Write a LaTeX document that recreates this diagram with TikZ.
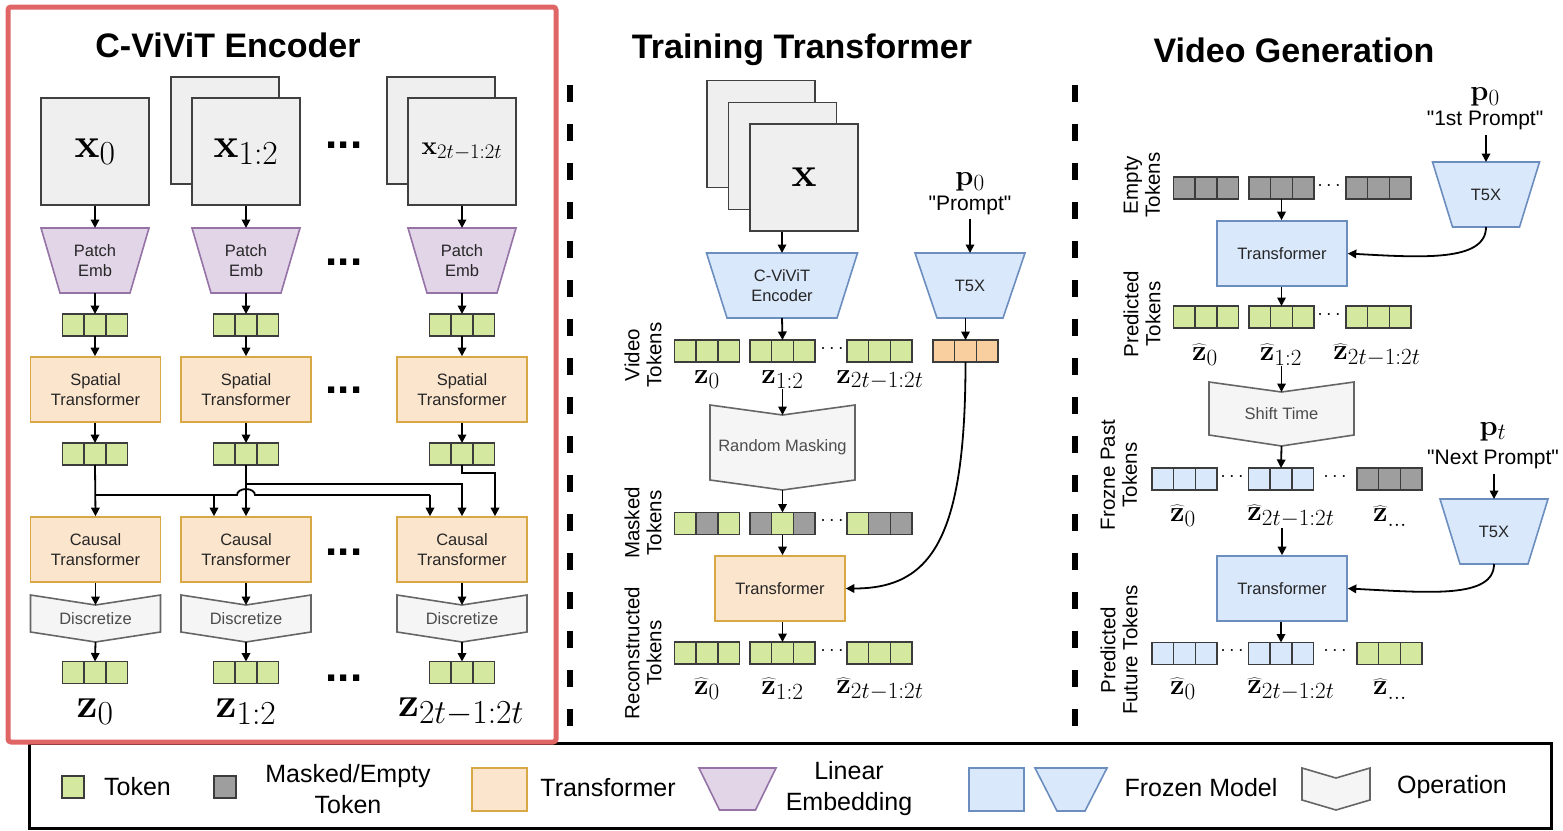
\RequirePackage{fix-cm}
\documentclass[tikz,border=0pt]{standalone}
\usepackage[no-math]{fontspec}
\setmainfont{Liberation Sans}
\usetikzlibrary{arrows.meta}
\renewcommand\defaultscriptratio{.8}
\definecolor{tokg}{HTML}{D5E8A0}
\definecolor{tokgray}{HTML}{9E9E9E}
\definecolor{tokor}{HTML}{F9CFA0}
\definecolor{tokline}{HTML}{3C3C3C}
\definecolor{trfill}{HTML}{FCE5CD}
\definecolor{trdraw}{HTML}{D9A846}
\definecolor{pfill}{HTML}{E1D5E7}
\definecolor{pdraw}{HTML}{9673A6}
\definecolor{bfill}{HTML}{DAE8FC}
\definecolor{bdraw}{HTML}{6C8EBF}
\definecolor{ofill}{HTML}{F5F5F5}
\definecolor{odraw}{HTML}{666666}
\definecolor{framefill}{HTML}{EFEFEF}
\definecolor{frameline}{HTML}{404040}
\definecolor{redbox}{HTML}{E06666}
\newcommand\tgroup[6]{%
  \node[cell,fill=#4] (#1-l) at ({#2-21.7},#3) {};%
  \node[cell,fill=#5] (#1) at (#2,#3) {};%
  \node[cell,fill=#6] (#1-r) at ({#2+21.7},#3) {};%
}
% name, cx, ytop, ybot, half top, half bottom, style, text
\newcommand\trap[8]{%
  \draw[#7] ({#2-#5},#3) -- ({#2+#5},#3) -- ({#2+#6},#4) -- ({#2-#6},#4) -- cycle;%
  \coordinate (#1-n) at (#2,#3);\coordinate (#1-s) at (#2,#4);%
  \node[txt] (#1) at (#2,{(#3+#4)/2}) {#8};%
}
% name, cx, half width, ytop, ynotch, yside, ytip, text
\newcommand\opshape[8]{%
  \draw[opsh] ({#2-#3},#4) -- (#2,#5) -- ({#2+#3},#4) -- ({#2+#3},#6) -- (#2,#7) -- ({#2-#3},#6) -- cycle;%
  \coordinate (#1-n) at (#2,#5);\coordinate (#1-s) at (#2,#7);%
  \node[txt,text=black!70] (#1) at (#2,{(#5+#6)/2}) {#8};%
}
\newcommand\qt[1]{\textquotedbl#1\textquotedbl}
\newcommand\zh{\widehat{\mathbf{z}}}
\begin{document}
\begin{tikzpicture}[x=1pt,y=-1pt,
  cell/.style={draw=tokline,line width=1.5pt,minimum width=21.7pt,minimum height=22pt,inner sep=0pt,outer sep=0pt},
  arr/.style={line width=1.8pt,-{Triangle[length=8.5pt,width=8.5pt]}},
  ln/.style={line width=1.8pt},
  frm/.style={draw=frameline,fill=framefill,line width=1.6pt,minimum width=108pt,minimum height=107pt,inner sep=0pt},
  txt/.style={font=\fontsize{16.5}{19.5}\selectfont,align=center,text=black!85,inner sep=0pt},
  trbox/.style={txt,draw=trdraw,fill=trfill,line width=1.6pt,minimum width=130pt,minimum height=65pt},
  frzbox/.style={txt,draw=bdraw,fill=bfill,line width=1.6pt,minimum width=130pt,minimum height=65pt},
  pemb/.style={draw=pdraw,fill=pfill,line width=1.6pt},
  frz/.style={draw=bdraw,fill=bfill,line width=1.6pt},
  opsh/.style={draw=odraw,fill=ofill,line width=1.6pt},
  ttl/.style={font=\fontsize{34}{40}\selectfont\bfseries,inner sep=0pt},
  sidelbl/.style={font=\fontsize{20.5}{22}\selectfont,align=center,rotate=90,inner sep=0pt},
  legtxt/.style={font=\fontsize{25}{31}\selectfont,align=center,inner sep=0pt},
  bigdots/.style={font=\fontsize{44}{44}\selectfont\bfseries,inner sep=0pt},
  smalldots/.style={font=\fontsize{20}{20}\selectfont,inner sep=0pt},
  prm/.style={font=\fontsize{21}{24}\selectfont,inner sep=0pt},
  mbig/.style={font=\fontsize{42}{46}\selectfont,inner sep=0pt},
  mmid/.style={font=\fontsize{29}{32}\selectfont,inner sep=0pt},
]
\useasboundingbox (0,0) rectangle (1563,830);
\fill[white] (0,0) rectangle (1563,830);

% ================= LEFT PANEL =================
\node[ttl] (t1) at (228,45) {C-ViViT Encoder};
\node[frm,mbig] (fx1) at (95,151.5) {$\mathbf{x}_0$};
\node[frm] (fx2b) at (225,130.5) {};
\node[frm,mbig] (fx2) at (246,151.5) {$\mathbf{x}_{1:2}$};
\node[frm] (fx3b) at (441,130.5) {};
\node[frm,font=\fontsize{26}{30}\selectfont] (fx3) at (462,151.5) {$\mathbf{x}_{2t-1:2t}$};

\trap{pe1}{95}{228}{293}{54}{35}{pemb}{Patch\\Emb}
\trap{pe2}{246}{228}{293}{54}{35}{pemb}{Patch\\Emb}
\trap{pe3}{462}{228}{293}{54}{35}{pemb}{Patch\\Emb}

\tgroup{a1}{95}{325}{tokg}{tokg}{tokg}
\tgroup{a2}{246}{325}{tokg}{tokg}{tokg}
\tgroup{a3}{462}{325}{tokg}{tokg}{tokg}

\node[trbox] (sp1) at (95.5,389.5) {Spatial\\Transformer};
\node[trbox] (sp2) at (246,389.5) {Spatial\\Transformer};
\node[trbox] (sp3) at (462,389.5) {Spatial\\Transformer};

\tgroup{b1}{95}{454}{tokg}{tokg}{tokg}
\tgroup{b2}{246}{454}{tokg}{tokg}{tokg}
\tgroup{b3}{462}{454}{tokg}{tokg}{tokg}

\node[trbox] (ca1) at (95.5,549.5) {Causal\\Transformer};
\node[trbox] (ca2) at (246,549.5) {Causal\\Transformer};
\node[trbox] (ca3) at (462,549.5) {Causal\\Transformer};

\opshape{d1}{95.5}{65}{595}{605}{632}{642}{Discretize}
\opshape{d2}{246}{65}{595}{605}{632}{642}{Discretize}
\opshape{d3}{462}{65}{595}{605}{632}{642}{Discretize}

\tgroup{c1}{95}{672.5}{tokg}{tokg}{tokg}
\tgroup{c2}{246}{672.5}{tokg}{tokg}{tokg}
\tgroup{c3}{462}{672.5}{tokg}{tokg}{tokg}

\node[mbig] (zl1) at (95,712) {$\mathbf{z}_0$};
\node[mbig] (zl2) at (246,712) {$\mathbf{z}_{1:2}$};
\node[mbig] (zl3) at (461,712) {$\mathbf{z}_{2t-1:2t}$};

\node[bigdots] (dd1) at (344,145) {...};
\node[bigdots] (dd2) at (344,262) {...};
\node[bigdots] (dd3) at (344,390) {...};
\node[bigdots] (dd4) at (344,552) {...};
\node[bigdots] (dd5) at (344,678) {...};

\foreach \i in {1,2,3}{
  \draw[arr] (pe\i-n |- fx\i.south) -- (pe\i-n);
  \draw[arr] (pe\i-s) -- (a\i.north);
  \draw[arr] (a\i.south) -- (sp\i.north -| a\i.south);
  \draw[arr] (sp\i.south -| b\i.north) -- (b\i.north);
  \draw[arr] (ca\i.south -| d\i-n) -- (d\i-n);
  \draw[arr] (d\i-s) -- (c\i.north);
}
% causal connections
\path (b1.south) ++(0,30) coordinate (h1);
\path (b2.south) ++(0,19) coordinate (h2);
\path (b3.south) ++(0,8) coordinate (h3);
\coordinate (hopL) at ([xshift=-9pt]b2.south);
\coordinate (ca2a) at ([xshift=-32pt]ca2.north);
\coordinate (ca3a) at ([xshift=-32pt]ca3.north);
\coordinate (ca3c) at ([xshift=33pt]ca3.north);
\draw[arr] (b1.south) -- (ca1.north);
\draw[ln] (h1) -- (hopL |- h1) arc[start angle=180,end angle=360,x radius=9,y radius=6] -- (ca3a |- h1);
\draw[arr] (ca2a |- h1) -- (ca2a);
\draw[arr] (ca3a |- h1) -- (ca3a);
\draw[arr] (b2.south) -- (ca2.north);
\draw[arr] (h2) -| (ca3.north);
\draw[arr] (b3.south) -- (h3) -| (ca3c);

% ================= DIVIDERS =================
\draw[line width=5.5pt,dash pattern=on 16.5pt off 22.5pt] (570,85) -- (570,726);
\draw[line width=5.5pt,dash pattern=on 16.5pt off 22.5pt] (1075,85) -- (1075,726);

% ================= MIDDLE PANEL =================
\node[ttl] (t2) at (802,50) {Training Transformer};
\node[frm] (mf1) at (761,134) {};
\node[frm] (mf2) at (782.5,156) {};
\node[frm,mbig] (mf3) at (804,177.5) {$\mathbf{x}$};
\trap{enc}{782}{253}{318}{75.5}{55}{frz}{C-ViViT\\Encoder}
\trap{t5a}{970}{253}{318}{55}{33}{frz}{T5X}
\node[mmid] (p0a) at (970,182) {$\mathbf{p}_0$};
\node[prm] (pra) at (970,205) {\qt{Prompt}};
\draw[arr] (pra.south -| t5a-n) ++(0,4) -- (t5a-n);
\draw[arr] (enc-n |- mf3.south) -- (enc-n);

\tgroup{v1}{707}{351}{tokg}{tokg}{tokg}
\tgroup{v2}{782.5}{351}{tokg}{tokg}{tokg}
\tgroup{v3}{879.5}{351}{tokg}{tokg}{tokg}
\tgroup{vo}{965.5}{351}{tokor}{tokor}{tokor}
\node[smalldots] (vd) at (832,349) {$\cdots$};
\node[mmid] (vl1) at (707,380) {$\mathbf{z}_0$};
\node[mmid] (vl2) at (782.5,380) {$\mathbf{z}_{1:2}$};
\node[mmid] (vl3) at (880,380) {$\mathbf{z}_{2t-1:2t}$};
\draw[arr] (enc-s) -- (v2.north);
\draw[arr] (t5a-s -| vo.north) -- (vo.north);

\opshape{rm}{782.5}{72.5}{405}{415}{480}{490}{Random Masking}
\draw[arr] (rm-n |- vl2.south) -- (rm-n);

\tgroup{m1}{707}{523.5}{tokg}{tokgray}{tokg}
\tgroup{m2}{782.5}{523.5}{tokgray}{tokg}{tokgray}
\tgroup{m3}{879.5}{523.5}{tokg}{tokgray}{tokgray}
\node[smalldots] (md) at (832,521) {$\cdots$};
\draw[arr] (rm-s) -- (m2.north);

\node[trbox] (tr) at (780,588.5) {Transformer};
\draw[arr] (m2.south) -- (tr.north -| m2.south);
\draw[arr] (vo.south) .. controls +(0,178) and +(85,0) .. (tr.east);

\tgroup{r1}{707}{653}{tokg}{tokg}{tokg}
\tgroup{r2}{782.5}{653}{tokg}{tokg}{tokg}
\tgroup{r3}{879.5}{653}{tokg}{tokg}{tokg}
\node[smalldots] (rd) at (832,651) {$\cdots$};
\draw[arr] (tr.south -| r2.north) -- (r2.north);
\node[mmid] (rl1) at (707,689) {$\zh_0$};
\node[mmid] (rl2) at (782.5,689) {$\zh_{1:2}$};
\node[mmid] (rl3) at (880,689) {$\zh_{2t-1:2t}$};

\node[sidelbl] (s1) at (643,355) {Video\\Tokens};
\node[sidelbl] (s2) at (643,523) {Masked\\Tokens};
\node[sidelbl] (s3) at (643,653) {Reconstructed\\Tokens};

% ================= RIGHT PANEL =================
\node[ttl] (t3) at (1294,50) {Video Generation};
\node[mmid] (p0b) at (1485,97) {$\mathbf{p}_0$};
\node[prm] (prb) at (1485,120) {\qt{1st Prompt}};
\trap{t5b}{1486}{162}{227}{53.5}{33.5}{frz}{T5X}
\draw[arr] (prb.south -| t5b-n) ++(0,5) -- (t5b-n);

\tgroup{e1}{1206}{188}{tokgray}{tokgray}{tokgray}
\tgroup{e2}{1281.5}{188}{tokgray}{tokgray}{tokgray}
\tgroup{e3}{1378.5}{188}{tokgray}{tokgray}{tokgray}
\node[smalldots] (ed) at (1329,186) {$\cdots$};

\node[frzbox] (tg1) at (1282,253.5) {Transformer};
\draw[arr] (e2.south) -- (tg1.north -| e2.south);
\draw[arr] (t5b-s) .. controls +(0,35) and +(73,4) .. (tg1.east);

\tgroup{p1}{1206}{317}{tokg}{tokg}{tokg}
\tgroup{p2}{1281.5}{317}{tokg}{tokg}{tokg}
\tgroup{p3}{1378.5}{317}{tokg}{tokg}{tokg}
\node[smalldots] (pd) at (1329,315) {$\cdots$};
\draw[arr] (tg1.south -| p2.north) -- (p2.north);
\node[mmid] (pl1) at (1205,355) {$\zh_0$};
\node[mmid] (pl2) at (1281,355) {$\zh_{1:2}$};
\node[mmid] (pl3) at (1377,355) {$\zh_{2t-1:2t}$};

\opshape{st}{1281.5}{72.5}{382}{392}{435}{446}{Shift Time}
\draw[arr] (st-n |- pl2.south) -- (st-n);

\tgroup{f1}{1184.5}{479}{bfill}{bfill}{bfill}
\tgroup{f2}{1281}{479}{bfill}{bfill}{bfill}
\tgroup{f3}{1389.5}{479}{tokgray}{tokgray}{tokgray}
\node[smalldots] (fd1) at (1232,477) {$\cdots$};
\node[smalldots] (fd2) at (1335,477) {$\cdots$};
\draw[arr] (st-s) -- (f2.north);
\node[mmid] (fl1) at (1183,516) {$\zh_0$};
\node[mmid] (fl2) at (1291,516) {$\zh_{2t-1:2t}$};
\node[mmid] (fl3) at (1390,516) {$\zh_{\dots}$};

\node[frzbox] (tg2) at (1282,588.5) {Transformer};
\draw[arr] (tg2.north |- fl2.south) -- (tg2.north);

\node[mmid] (pt) at (1493,432) {$\mathbf{p}_t$};
\node[prm] (prc) at (1493,459) {\qt{Next Prompt}};
\trap{t5c}{1494}{499}{564}{54}{34}{frz}{T5X}
\draw[arr] (prc.south -| t5c-n) ++(0,5) -- (t5c-n);
\draw[arr] (t5c-s) .. controls +(0,35) and +(80,4) .. (tg2.east);

\tgroup{g1}{1184.5}{653.5}{bfill}{bfill}{bfill}
\tgroup{g2}{1281}{653.5}{bfill}{bfill}{bfill}
\tgroup{g3}{1389.5}{653.5}{tokg}{tokg}{tokg}
\node[smalldots] (gd1) at (1232,651) {$\cdots$};
\node[smalldots] (gd2) at (1335,651) {$\cdots$};
\draw[arr] (tg2.south -| g2.north) -- (g2.north);
\node[mmid] (gl1) at (1183,689) {$\zh_0$};
\node[mmid] (gl2) at (1291,689) {$\zh_{2t-1:2t}$};
\node[mmid] (gl3) at (1390,689) {$\zh_{\dots}$};

\node[sidelbl] (s4) at (1142,185) {Empty\\Tokens};
\node[sidelbl] (s5) at (1142,314) {Predicted\\Tokens};
\node[sidelbl] (s6) at (1119,475) {Frozne Past\\Tokens};
\node[sidelbl] (s7) at (1119,650) {Predicted\\Future Tokens};

% ================= LEGEND =================
\draw[line width=3pt] (29,743) rectangle (1551,828);
\node[cell,fill=tokg] (lg1) at (73,787) {};
\node[legtxt] (lt1) at (137.5,787) {Token};
\node[cell,fill=tokgray] (lg2) at (225,787) {};
\node[legtxt] (lt2) at (348,789) {Masked/Empty\\Token};
\node[draw=trdraw,fill=trfill,line width=1.6pt,minimum width=55pt,minimum height=43pt,inner sep=0pt] (lg3) at (499.5,789.5) {};
\node[legtxt] (lt3) at (608,788) {Transformer};
\trap{lg4}{737.5}{768}{810}{38.5}{18}{pemb}{}
\node[legtxt] (lt4) at (849,789) {Linear\\Embedding};
\node[draw=bdraw,fill=bfill,line width=1.6pt,minimum width=55pt,minimum height=43pt,inner sep=0pt] (lg5) at (996.5,789.5) {};
\trap{lg6}{1071}{768}{811}{36}{14}{frz}{}
\node[legtxt] (lt5) at (1201,788) {Frozen Model};
\opshape{lg7}{1336}{34}{768}{778}{800}{810}{}
\node[legtxt] (lt6) at (1452,787) {Operation};

% red highlight box
\draw[redbox,line width=5pt,rounded corners=3pt] (8,7) rectangle (556,742);
\end{tikzpicture}
\end{document}
